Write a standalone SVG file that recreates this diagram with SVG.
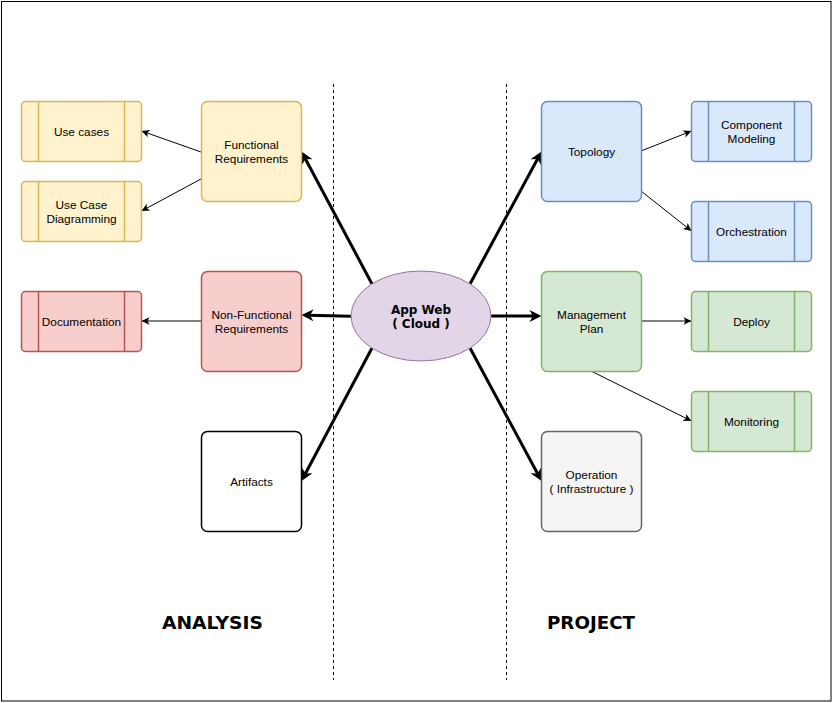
<svg xmlns="http://www.w3.org/2000/svg" width="833" height="703" viewBox="0 0 833 703">
<style>
.t{font-family:"Liberation Sans",Arial,sans-serif;font-size:11.8px;fill:#000;text-anchor:middle}
.b{font-family:"DejaVu Sans",Verdana,sans-serif;font-weight:bold;fill:#000;text-anchor:middle}
.y{fill:#fff2cc;stroke:#d6b656;stroke-width:1.5}
.r{fill:#f8cecc;stroke:#b85450;stroke-width:1.5}
.bl{fill:#dae8fc;stroke:#6c8ebf;stroke-width:1.5}
.g{fill:#d5e8d4;stroke:#82b366;stroke-width:1.5}
.gr{fill:#f5f5f5;stroke:#666666;stroke-width:1.5}
.w{fill:#ffffff;stroke:#000000;stroke-width:1.5}
.thin{stroke:#000;stroke-width:1;fill:none;marker-end:url(#a1)}
.thick{stroke:#000;stroke-width:3;fill:none;marker-end:url(#a3)}
.dash{stroke:#000;stroke-width:1;stroke-dasharray:3 3;fill:none}
</style>
<defs>
<marker id="a1" markerUnits="userSpaceOnUse" orient="auto" refX="0" refY="0" markerWidth="20" markerHeight="20" overflow="visible">
<path d="M0,0 L-8,-3.8 L-6,0 L-8,3.8 Z" fill="#000"/>
</marker>
<marker id="a3" markerUnits="userSpaceOnUse" orient="auto" refX="0" refY="0" markerWidth="30" markerHeight="30" overflow="visible">
<path d="M7,0 L-5,-6 L-1.5,0 L-5,6 Z" fill="#000"/>
</marker>
</defs>
<rect x="1.5" y="1.5" width="829.5" height="699.5" fill="#fff" stroke="#000" stroke-width="1"/>
<g id="separators">
<line class="dash" x1="333.5" y1="84" x2="333.5" y2="680"/>
<line class="dash" x1="506.5" y1="84" x2="506.5" y2="680"/>
</g>
<g id="connectors">
<line class="thin" x1="201" y1="152" x2="141.5" y2="131"/>
<line class="thin" x1="201" y1="179" x2="141.5" y2="211"/>
<line class="thin" x1="201" y1="321" x2="141.5" y2="321"/>
<line class="thin" x1="641" y1="151" x2="691.5" y2="131"/>
<line class="thin" x1="641" y1="191" x2="691.5" y2="231"/>
<line class="thin" x1="641" y1="321" x2="691.5" y2="321"/>
<line class="thin" x1="591" y1="371" x2="691.5" y2="421"/>
<line class="thick" x1="372" y1="284" x2="304.8" y2="157.7"/>
<line class="thick" x1="470" y1="284" x2="538.2" y2="157.7"/>
<line class="thick" x1="372" y1="348" x2="304.8" y2="474.8"/>
<line class="thick" x1="470" y1="348" x2="538.2" y2="474.8"/>
<line class="thick" x1="351" y1="316.3" x2="308.5" y2="315.2"/>
<line class="thick" x1="491" y1="316" x2="534.5" y2="316"/>
</g>
<g id="use-cases">
<rect class="y" x="21.5" y="101.5" width="120" height="60" rx="4"/>
<line class="y" x1="38.5" y1="101.5" x2="38.5" y2="161.5"/>
<line class="y" x1="124.5" y1="101.5" x2="124.5" y2="161.5"/>
<text class="t" x="81.5" y="135.5">Use cases</text>
</g>
<g id="use-case-diagramming">
<rect class="y" x="21.5" y="181.5" width="120" height="60" rx="4"/>
<line class="y" x1="38.5" y1="181.5" x2="38.5" y2="241.5"/>
<line class="y" x1="124.5" y1="181.5" x2="124.5" y2="241.5"/>
<text class="t" x="81.5" y="208.5">Use Case</text>
<text class="t" x="81.5" y="222.5">Diagramming</text>
</g>
<g id="documentation">
<rect class="r" x="21.5" y="291.5" width="120" height="60" rx="4"/>
<line class="r" x1="38.5" y1="291.5" x2="38.5" y2="351.5"/>
<line class="r" x1="124.5" y1="291.5" x2="124.5" y2="351.5"/>
<text class="t" x="81.5" y="325.5">Documentation</text>
</g>
<g id="functional-requirements">
<rect class="y" x="201.5" y="101.5" width="100" height="100" rx="6"/>
<text class="t" x="251.5" y="149">Functional</text>
<text class="t" x="251.5" y="163">Requirements</text>
</g>
<g id="non-functional-requirements">
<rect class="r" x="201.5" y="271.5" width="100" height="100" rx="6"/>
<text class="t" x="251.5" y="319">Non-Functional</text>
<text class="t" x="251.5" y="333">Requirements</text>
</g>
<g id="artifacts">
<rect class="w" x="201.5" y="431.5" width="100" height="100" rx="6"/>
<text class="t" x="251.5" y="486">Artifacts</text>
</g>
<g id="app-web">
<ellipse cx="421" cy="316" rx="70" ry="45" fill="#e1d5e7" stroke="#9673a6" stroke-width="1"/>
<text class="b" x="421" y="313.5" font-size="12">App Web</text>
<text class="b" x="421" y="327.5" font-size="12">( Cloud )</text>
</g>
<g id="topology">
<rect class="bl" x="541.5" y="101.5" width="100" height="100" rx="6"/>
<text class="t" x="591.5" y="156">Topology</text>
</g>
<g id="management-plan">
<rect class="g" x="541.5" y="271.5" width="100" height="100" rx="6"/>
<text class="t" x="591.5" y="319">Management</text>
<text class="t" x="591.5" y="333">Plan</text>
</g>
<g id="operation">
<rect class="gr" x="541.5" y="431.5" width="100" height="100" rx="6"/>
<text class="t" x="591.5" y="479">Operation</text>
<text class="t" x="591.5" y="493">( Infrastructure )</text>
</g>
<g id="component-modeling">
<rect class="bl" x="691.5" y="101.5" width="120" height="60" rx="4"/>
<line class="bl" x1="708.5" y1="101.5" x2="708.5" y2="161.5"/>
<line class="bl" x1="794.5" y1="101.5" x2="794.5" y2="161.5"/>
<text class="t" x="751.5" y="128.5">Component</text>
<text class="t" x="751.5" y="142.5">Modeling</text>
</g>
<g id="orchestration">
<rect class="bl" x="691.5" y="201.5" width="120" height="60" rx="4"/>
<line class="bl" x1="708.5" y1="201.5" x2="708.5" y2="261.5"/>
<line class="bl" x1="794.5" y1="201.5" x2="794.5" y2="261.5"/>
<text class="t" x="751.5" y="235.5">Orchestration</text>
</g>
<g id="deploy">
<rect class="g" x="691.5" y="291.5" width="120" height="60" rx="4"/>
<line class="g" x1="708.5" y1="291.5" x2="708.5" y2="351.5"/>
<line class="g" x1="794.5" y1="291.5" x2="794.5" y2="351.5"/>
<text class="t" x="751.5" y="325.5">Deploy</text>
</g>
<g id="monitoring">
<rect class="g" x="691.5" y="391.5" width="120" height="60" rx="4"/>
<line class="g" x1="708.5" y1="391.5" x2="708.5" y2="451.5"/>
<line class="g" x1="794.5" y1="391.5" x2="794.5" y2="451.5"/>
<text class="t" x="751.5" y="425.5">Monitoring</text>
</g>
<g id="labels">
<text class="b" x="212.5" y="629" font-size="17" textLength="101" lengthAdjust="spacingAndGlyphs">ANALYSIS</text>
<text class="b" x="591" y="629" font-size="17" textLength="88" lengthAdjust="spacingAndGlyphs">PROJECT</text>
</g>
</svg>
